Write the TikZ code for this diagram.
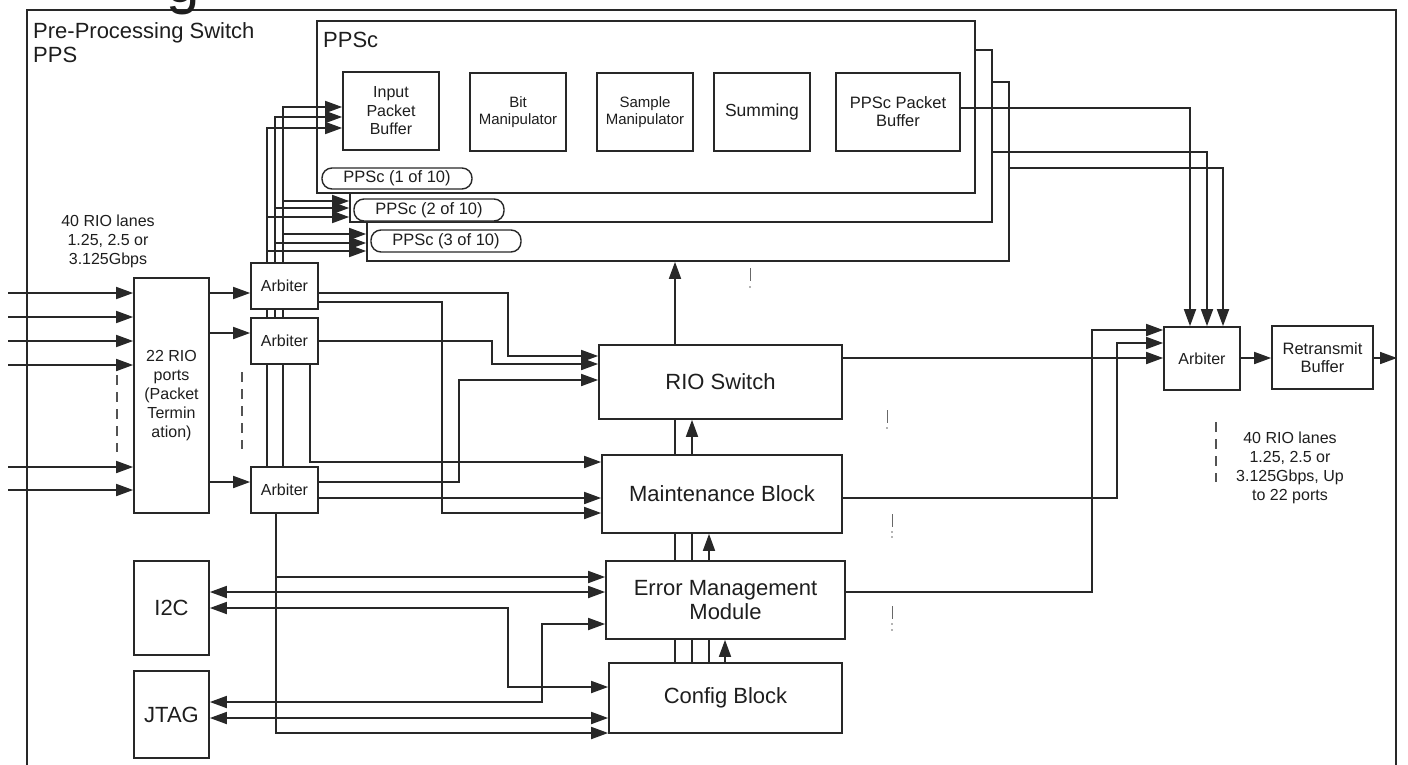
\documentclass[tikz,border=0pt]{standalone}
\usepackage{fontspec}
\setmainfont{Liberation Sans}
\usetikzlibrary{arrows.meta}
\pgfdeclarelayer{bg}
\pgfsetlayers{bg,main}
\definecolor{lc}{RGB}{40,40,40}
\definecolor{tc}{RGB}{30,30,30}
\begin{document}
\begin{tikzpicture}[x=1pt,y=-1pt,
  box/.style={draw=lc, fill=white, line width=1.7pt, inner sep=0pt, align=center, text=tc},
  conn/.style={draw=lc, line width=1.7pt},
  arr/.style={conn, -{Triangle[length=17pt,width=12pt]}},
  darr/.style={conn, {Triangle[length=17pt,width=12pt]}-{Triangle[length=17pt,width=12pt]}},
  fbig/.style={font=\fontsize{22}{24}\selectfont},
  fmid/.style={font=\fontsize{16}{19}\selectfont},
  fsml/.style={font=\fontsize{15}{17}\selectfont},
  lbl/.style={text=tc, inner sep=0pt, align=center},
  stray/.style={draw=lc!70, line width=1pt},
  dashv/.style={draw=lc!80, line width=1.6pt, dash pattern=on 10pt off 7pt}
]
\useasboundingbox (0,0) rectangle (1408,764);
\begin{pgfonlayer}{bg}
\fill[white] (0,0) rectangle (1408,764);
\draw[lc, line width=1.7pt] (27,780) -- (27,10) -- (1396,10) -- (1396,780);
\node[box, minimum width=642pt, minimum height=179pt] (ppsc3) at (688,171.5) {};
\node[box, minimum width=642pt, minimum height=172pt] (ppsc2) at (671,136) {};
\node[box, minimum width=658pt, minimum height=172pt] (ppsc1) at (646,107) {};
\end{pgfonlayer}

% cut-off heading letter at the top edge (as in the reference)
\node[lbl, font=\fontsize{60}{60}\selectfont, anchor=base west] (cutg) at (166,2) {g};

% titles
\node[lbl, fbig, anchor=north west, align=left] (title) at (33,22) {Pre-Processing Switch\\PPS};
\node[lbl, fbig, anchor=north west] (ppsclbl) at (323,32) {PPSc};

% PPSc inner blocks
\node[box, minimum width=96pt, minimum height=78pt, font=\fontsize{16}{18.5}\selectfont] (ipb) at (391,111) {Input\\Packet\\Buffer};
\node[box, minimum width=96pt, minimum height=78pt, fsml] (bitm) at (518,112) {Bit\\Manipulator};
\node[box, minimum width=96pt, minimum height=78pt, fsml] (sampm) at (645,112) {Sample\\Manipulator};
\node[box, minimum width=96pt, minimum height=78pt, font=\fontsize{17.5}{20}\selectfont] (summ) at (762,112) {Summing};
\node[box, minimum width=124pt, minimum height=78pt, font=\fontsize{16.5}{18}\selectfont] (ppb) at (898,112) {PPSc Packet\\Buffer};

% pills
\node[box, rounded corners=10pt, line width=1.4pt, minimum width=150pt, minimum height=21pt, font=\fontsize{16.5}{18}\selectfont] (pill1) at (397,178.5) {PPSc (1 of 10)};
\node[box, rounded corners=10pt, line width=1.4pt, minimum width=150pt, minimum height=22pt, font=\fontsize{16.5}{18}\selectfont] (pill2) at (429,210) {PPSc (2 of 10)};
\node[box, rounded corners=10pt, line width=1.4pt, minimum width=150pt, minimum height=22pt, font=\fontsize{16.5}{18}\selectfont] (pill3) at (446,241) {PPSc (3 of 10)};

% left side
\node[box, minimum width=75pt, minimum height=235pt, fmid] (ports) at (171.5,395.5) {22 RIO\\ports\\(Packet\\Termin\\ation)};
\node[box, minimum width=67pt, minimum height=46pt, fmid] (arb1) at (284.5,286) {Arbiter};
\node[box, minimum width=67pt, minimum height=46pt, fmid] (arb2) at (284.5,341) {Arbiter};
\node[box, minimum width=67pt, minimum height=46pt, fmid] (arb3) at (284.5,490) {Arbiter};
\node[box, minimum width=75pt, minimum height=94pt, fbig] (i2c) at (171.5,608) {I2C};
\node[box, minimum width=75pt, minimum height=87pt, fbig] (jtag) at (171.5,714.5) {JTAG};

% center blocks
\node[box, minimum width=243pt, minimum height=74pt, fbig] (rio) at (720.5,382) {RIO Switch};
\node[box, minimum width=240pt, minimum height=78pt, fbig] (maint) at (722,494) {Maintenance Block};
\node[box, minimum width=239pt, minimum height=78pt, fbig] (emm) at (725.5,600) {Error Management\\Module};
\node[box, minimum width=233pt, minimum height=70pt, fbig] (config) at (725.5,698) {Config Block};

% right blocks
\node[box, minimum width=76pt, minimum height=63pt, fmid] (arbR) at (1202,358.5) {Arbiter};
\node[box, minimum width=101pt, minimum height=63pt, font=\fontsize{16.5}{18}\selectfont] (retx) at (1322.5,357.5) {Retransmit\\Buffer};
\coordinate (out) at (1397,358);

% labels
\node[lbl, fmid] (lanesL) at (108,241) {40 RIO lanes\\1.25, 2.5 or\\3.125Gbps};
\node[lbl, fmid] (lanesR) at (1290,467.5) {40 RIO lanes\\1.25, 2.5 or\\3.125Gbps, Up\\to 22 ports};

\begin{pgfonlayer}{bg}
% inputs to ports
\foreach \yy in {293,317,341,365,467,490} {
  \draw[arr] (8,\yy) -- (ports.west |- 0,\yy);
}
\draw[arr] (ports.east |- 0,293) -- (arb1.west |- 0,293);
\draw[arr] (ports.east |- 0,333) -- (arb2.west |- 0,333);
\draw[arr] (ports.east |- 0,482) -- (arb3.west |- 0,482);

% arbiter verticals up to PPSc
\draw[arr] (arb3.north -| 267,0) -- (267,128) -- (ipb.west |- 0,128);
\draw[arr] (arb2.north -| 275,0) -- (275,117) -- (ipb.west |- 0,117);
\draw[arr] (arb3.north -| 283,0) -- (283,107) -- (ipb.west |- 0,107);
\draw[arr] (283,201) -- (ppsc2.west |- 0,201);
\draw[arr] (275,208) -- (ppsc2.west |- 0,208);
\draw[arr] (267,217) -- (ppsc2.west |- 0,217);
\draw[arr] (283,234) -- (ppsc3.west |- 0,234);
\draw[arr] (275,243) -- (ppsc3.west |- 0,243);
\draw[arr] (267,251) -- (ppsc3.west |- 0,251);

% arbiters to RIO switch / maintenance
\draw[arr] (arb1.east |- 0,293) -| (508,356) -- (rio.west |- 0,356);
\draw[arr] (arb1.east |- 0,302) -| (442,513) -- (maint.west |- 0,513);
\draw[arr] (arb2.east |- 0,341) -| (492,364) -- (rio.west |- 0,364);
\draw[arr] (arb3.east |- 0,482) -| (459,380) -- (rio.west |- 0,380);
\draw[arr] (arb3.east |- 0,498) -- (maint.west |- 0,498);
\draw[arr] (arb2.south -| 310,0) -- (310,462) -- (maint.west |- 0,462);

% arbiter 3 down to EMM / config
\draw[arr] (arb3.south -| 276,0) -- (276,733) -- (config.west |- 0,733);
\draw[arr] (276,577) -- (emm.west |- 0,577);

% I2C / JTAG
\draw[darr] (i2c.east |- 0,592) -- (emm.west |- 0,592);
\draw[darr] (i2c.east |- 0,608) -| (508,687) -- (config.west |- 0,687);
\draw[darr] (jtag.east |- 0,702) -| (542,624) -- (emm.west |- 0,624);
\draw[darr] (jtag.east |- 0,718) -- (config.west |- 0,718);

% vertical links between center blocks
\draw[arr] (rio.north -| 675,0) -- (ppsc3.south -| 675,0);
\draw[conn] (maint.north -| 675,0) -- (rio.south -| 675,0);
\draw[arr] (maint.north -| 692,0) -- (rio.south -| 692,0);
\draw[conn] (emm.north -| 675,0) -- (maint.south -| 675,0);
\draw[conn] (emm.north -| 692,0) -- (maint.south -| 692,0);
\draw[arr] (emm.north -| 709,0) -- (maint.south -| 709,0);
\draw[conn] (config.north -| 675,0) -- (emm.south -| 675,0);
\draw[conn] (config.north -| 692,0) -- (emm.south -| 692,0);
\draw[conn] (config.north -| 709,0) -- (emm.south -| 709,0);
\draw[arr] (config.north -| 725,0) -- (emm.south -| 725,0);

% to right arbiter
\draw[arr] (ppb.east |- 0,108) -| (arbR.north -| 1190,0);
\draw[arr] (ppsc2.east |- 0,152) -| (arbR.north -| 1207,0);
\draw[arr] (ppsc3.east |- 0,168) -| (arbR.north -| 1223,0);
\draw[arr] (emm.east |- 0,592) -| (1092,330) -- (arbR.west |- 0,330);
\draw[arr] (maint.east |- 0,498) -| (1117,343) -- (arbR.west |- 0,343);
\draw[arr] (rio.east |- 0,358) -- (arbR.west |- 0,358);
\draw[arr] (arbR.east |- 0,358) -- (retx.west |- 0,358);
\draw[arr] (retx.east |- 0,358) -- (out);

% dashed ellipsis lines
\draw[dashv] (117,375) -- (117,452);
\draw[dashv] (242,372) -- (242,449);
\draw[dashv] (1216,422) -- (1216,482);

% stray marks
\draw[stray] (750,268) -- (750,281);
\fill[lc!70] (750,287) circle (0.9);
\draw[stray] (887,410) -- (887,423);
\fill[lc!70] (887,428) circle (0.9);
\draw[stray] (892,514) -- (892,527);
\fill[lc!70] (892,532) circle (0.9);
\fill[lc!70] (892,537) circle (0.9);
\draw[stray] (892,606) -- (892,619);
\fill[lc!70] (892,624) circle (0.9);
\fill[lc!70] (892,630) circle (0.9);
\end{pgfonlayer}
\end{tikzpicture}
\end{document}
